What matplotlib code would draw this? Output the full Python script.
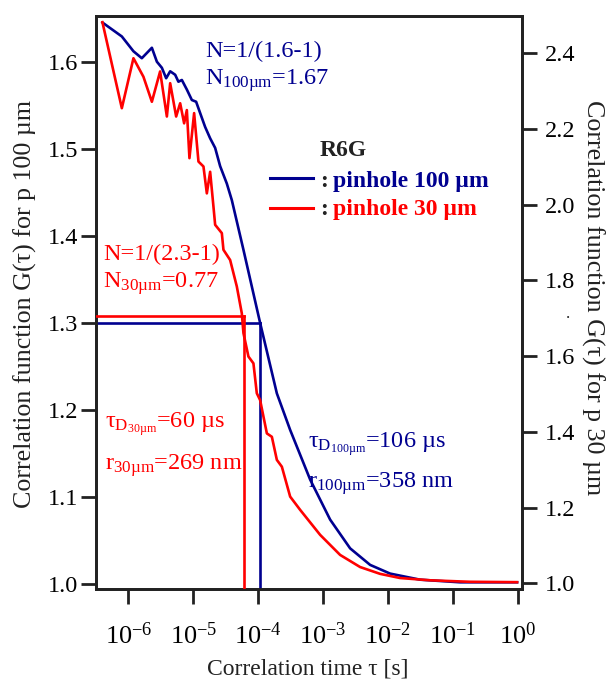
import numpy as np
import matplotlib
matplotlib.use('Agg')
import matplotlib.pyplot as plt
from matplotlib.ticker import NullLocator, FixedLocator

plt.rcParams['font.family'] = ['Liberation Serif', 'DejaVu Serif']
plt.rcParams['mathtext.fontset'] = 'custom'
plt.rcParams['mathtext.rm'] = 'Liberation Serif'
plt.rcParams['mathtext.it'] = 'Liberation Serif:italic'
plt.rcParams['mathtext.bf'] = 'Liberation Serif:bold'

# ---------------- data ----------------
# pinhole 100 um (left axis): log10(tau/s) and G(tau)
logtau_100 = [-6.401, -6.102, -5.923, -5.794, -5.639, -5.562, -5.485, -5.419, -5.357,
              -5.280, -5.230, -5.177, -5.100, -5.023, -4.957, -4.895, -4.818, -4.741,
              -4.664, -4.587, -4.484, -4.407, -4.228, -3.971, -3.713, -3.508, -3.200,
              -2.892, -2.584, -2.276, -1.968, -1.506, -0.889, -0.011]
g_100 = [1.645, 1.629, 1.612, 1.604, 1.616, 1.600, 1.593, 1.581, 1.589,
         1.585, 1.577, 1.579, 1.568, 1.556, 1.554, 1.541, 1.525, 1.512,
         1.501, 1.480, 1.460, 1.441, 1.384, 1.300, 1.219, 1.177, 1.120,
         1.074, 1.041, 1.022, 1.012, 1.005, 1.002, 1.002]

# pinhole 30 um (right axis)
logtau_30 = [-6.401, -6.102, -5.923, -5.769, -5.639, -5.512, -5.408, -5.357, -5.265,
             -5.203, -5.142, -5.100, -5.060, -4.988, -4.921, -4.844, -4.792, -4.741,
             -4.690, -4.664, -4.561, -4.536, -4.433, -4.330, -4.253, -4.228, -4.151,
             -4.074, -4.022, -3.971, -3.867, -3.790, -3.713, -3.636, -3.508, -3.354,
             -3.046, -2.738, -2.430, -2.122, -1.814, -1.352, -0.736, -0.011]
g_30 = [2.482, 2.255, 2.387, 2.338, 2.272, 2.352, 2.233, 2.321, 2.233,
        2.268, 2.215, 2.250, 2.123, 2.242, 2.114, 2.101, 2.030, 2.087,
        1.995, 1.947, 1.925, 1.881, 1.854, 1.784, 1.713, 1.661, 1.599,
        1.581, 1.502, 1.484, 1.396, 1.387, 1.326, 1.308, 1.229, 1.194,
        1.128, 1.075, 1.043, 1.025, 1.014, 1.008, 1.004, 1.003]

# half-amplitude levels and diffusion times
g_half_100 = 1.30
tau_D_100 = 106e-6
g_half_30 = 1.705
tau_D_30 = 60e-6

xtick_exp = [-6, -5, -4, -3, -2, -1, 0]
yticks_left = [1.0, 1.1, 1.2, 1.3, 1.4, 1.5, 1.6]
yticks_right = [1.0, 1.2, 1.4, 1.6, 1.8, 2.0, 2.2, 2.4]

xlim = (10 ** -6.5, 10 ** 0.06)
ylim_left = (0.9943, 1.6525)
ylim_right = (0.985, 2.4985)

BLUE = '#000090'
RED = '#ff0000'
DARK = '#222222'

# ---------------- figure ----------------
fig = plt.figure(figsize=(6.08, 6.82), dpi=100)
ax = fig.add_axes([96 / 608, 1 - 589 / 682, 425.7 / 608, 573 / 682])
ax2 = ax.twinx()

tau100 = 10 ** np.array(logtau_100)
tau30 = 10 ** np.array(logtau_30)

ax.plot(tau100, g_100, color=BLUE, lw=1.9, zorder=3)
ax.plot([xlim[0], tau_D_100], [g_half_100, g_half_100], color=BLUE, lw=1.9, zorder=3)
ax.plot([tau_D_100, tau_D_100], [ylim_left[0], g_half_100], color=BLUE, lw=1.9, zorder=3)

ax2.plot(tau30, g_30, color=RED, lw=1.9, zorder=3)
ax2.plot([xlim[0], tau_D_30], [g_half_30, g_half_30], color=RED, lw=1.9, zorder=3)
ax2.plot([tau_D_30, tau_D_30], [ylim_right[0], g_half_30], color=RED, lw=1.9, zorder=3)

ax.set_xscale('log')
ax.set_xlim(*xlim)
ax.set_ylim(*ylim_left)
ax2.set_ylim(*ylim_right)

ax.xaxis.set_major_locator(FixedLocator([10.0 ** e for e in xtick_exp]))
ax.xaxis.set_minor_locator(NullLocator())
ax.set_xticklabels([r'$\mathregular{10^{%d}}$' % e for e in xtick_exp])
ax.set_yticks(yticks_left)
ax.set_yticklabels(['%.1f' % v for v in yticks_left])
ax2.set_yticks(yticks_right)
ax2.set_yticklabels(['%.1f' % v for v in yticks_right])
ax.yaxis.set_minor_locator(NullLocator())
ax2.yaxis.set_minor_locator(NullLocator())

for a in (ax, ax2):
    for s in a.spines.values():
        s.set_linewidth(2.0)
        s.set_color(DARK)
ax.tick_params(axis='x', direction='out', length=11, width=2, color=DARK,
               labelsize=19, pad=13, top=False)
ax.tick_params(axis='y', direction='out', length=11, width=2, color=DARK,
               labelsize=17.5, pad=2, right=False)
ax2.tick_params(axis='y', direction='out', length=11, width=2, color=DARK,
                labelsize=17.5, pad=6)
ax2.tick_params(axis='x', bottom=False, top=False, labelbottom=False)

# axis labels
fig.text(25 / 608, 1 - 304 / 682, 'Correlation function G(τ) for p 100 µm',
         rotation=90, ha='center', va='center', fontsize=18.7, color=DARK)
fig.text(593 / 608, 1 - 298 / 682, 'Correlation function G(τ) for p 30 µm',
         rotation=270, ha='center', va='center', fontsize=18.7, color=DARK)
fig.text(308 / 608, 1 - 675 / 682, 'Correlation time τ [s]',
         ha='center', va='baseline', fontsize=17, color=DARK)

# annotations
T = ax.transAxes
fs = 17.5
ax.text(0.256, 0.929, 'N=1/(1.6-1)', transform=T, color=BLUE, fontsize=fs, va='baseline')
ax.text(0.256, 0.880, r'N$\mathregular{_{100µm}}$=1.67', transform=T, color=BLUE,
        fontsize=fs, va='baseline')
ax.text(0.017, 0.574, 'N=1/(2.3-1)', transform=T, color=RED, fontsize=fs, va='baseline')
ax.text(0.017, 0.525, r'N$\mathregular{_{30µm}}$=0.77', transform=T, color=RED,
        fontsize=fs, va='baseline')
ax.text(0.020, 0.2805, r'τ$\mathregular{_{D_{30µm}}}$=60 µs', transform=T, color=RED,
        fontsize=fs, va='baseline')
ax.text(0.020, 0.2077, r'r$\mathregular{_{30µm}}$=269 nm', transform=T, color=RED,
        fontsize=fs, va='baseline')
ax.text(0.498, 0.246, r'τ$\mathregular{_{D_{100µm}}}$=106 µs', transform=T, color=BLUE,
        fontsize=fs, va='baseline')
ax.text(0.498, 0.176, r'r$\mathregular{_{100µm}}$=358 nm', transform=T, color=BLUE,
        fontsize=fs, va='baseline')

# legend (drawn manually)
ax.text(0.526, 0.756, 'R6G', transform=T, color=DARK, fontsize=17,
        fontweight='bold', va='baseline')
ax.plot([0.409, 0.510], [0.7173, 0.7173], transform=T, color=BLUE, lw=2.2, clip_on=False)
ax.plot([0.409, 0.510], [0.665, 0.665], transform=T, color=RED, lw=2.2, clip_on=False)
ax.text(0.526, 0.702, ':', transform=T, color=DARK, fontsize=17, fontweight='bold', va='baseline')
ax.text(0.556, 0.702, 'pinhole 100 µm', transform=T, color=BLUE, fontsize=17,
        fontweight='bold', va='baseline')
ax.text(0.526, 0.653, ':', transform=T, color=DARK, fontsize=17, fontweight='bold', va='baseline')
ax.text(0.556, 0.653, 'pinhole 30 µm', transform=T, color=RED, fontsize=17,
        fontweight='bold', va='baseline')

# stray dot near right axis
fig.text(568 / 608, 1 - 318 / 682, '.', color=DARK, fontsize=12, ha='center', va='baseline')

fig.savefig('out.png', dpi=100)
